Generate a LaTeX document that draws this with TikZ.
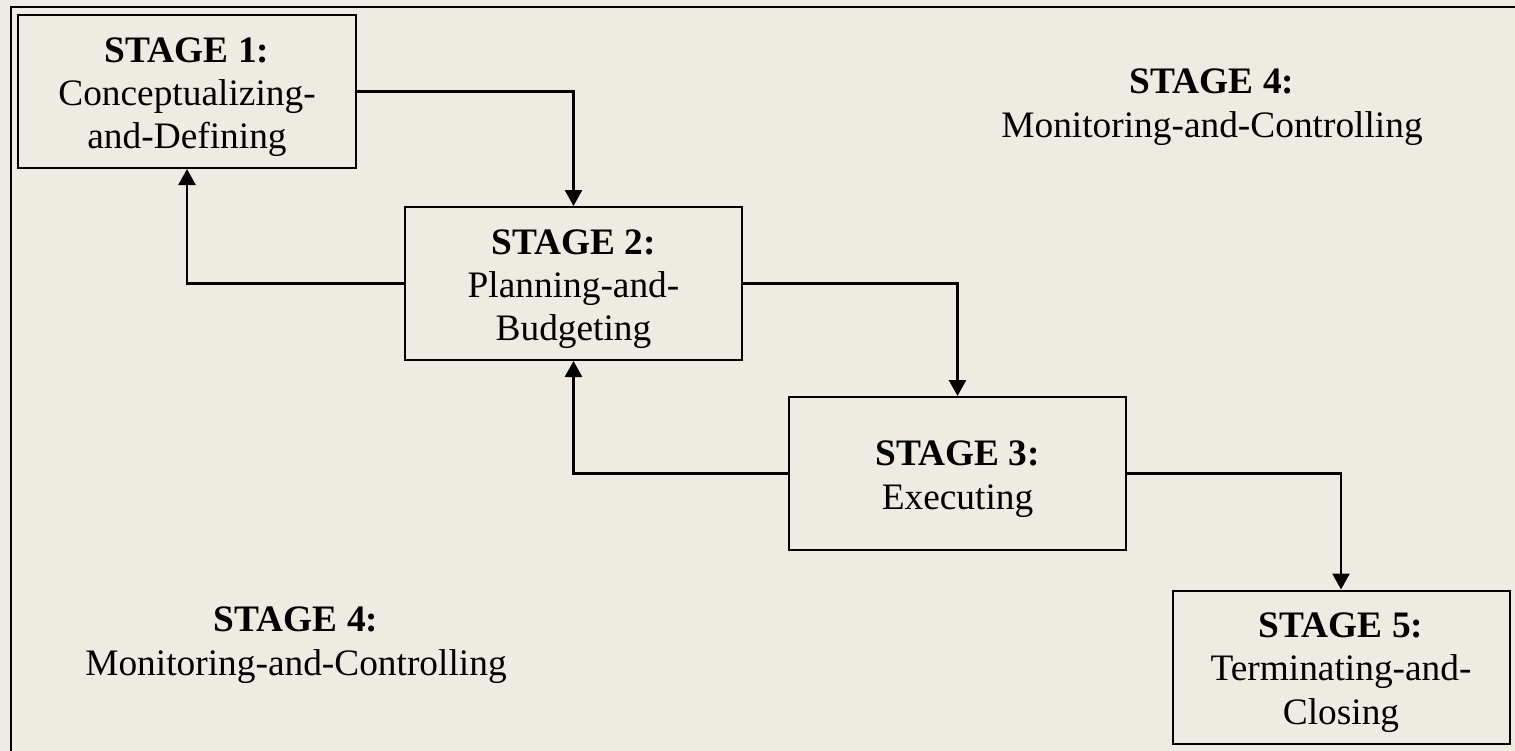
\documentclass[tikz,border=0pt]{standalone}
\usepackage{fontspec}
\setmainfont{Liberation Serif}
\usetikzlibrary{arrows.meta}
\definecolor{bgcol}{RGB}{238,235,227}
\newcommand{\toplift}{\rule{0pt}{36bp}}
\tikzset{
  stagebox/.style={draw=black, line width=2bp, fill=bgcol, minimum width=337bp, minimum height=153bp, inner sep=0pt, align=center, font=\fontsize{37.5}{43.5}\selectfont},
  freelabel/.style={inner sep=0pt, align=center, font=\fontsize{37.5}{44}\selectfont},
  arr/.style={draw=black, line width=2.6bp, -{Triangle[width=17bp,length=16bp]}}
}
\begin{document}
\begin{tikzpicture}[x=1bp,y=-1bp]
\fill[bgcol] (0,0) rectangle (1515,751);
\useasboundingbox (0,0) rectangle (1515,751);
\draw[line width=2.6bp] (11,751) -- (11,7) -- (1515,7);

\node[stagebox] (s1) at (187,91.5) {\toplift\textbf{STAGE 1:}\\Conceptualizing-\\and-Defining};
\node[stagebox] (s2) at (573.5,283.5) {\toplift\textbf{STAGE 2:}\\Planning-and-\\Budgeting};
\node[stagebox] (s3) at (957.5,473.5) {\toplift\textbf{STAGE 3:}\\Executing};
\node[stagebox] (s5) at (1341,667) {\toplift\textbf{STAGE 5:}\\Terminating-and-\\Closing};

\node[freelabel] (s4a) at (1212,107) {\textbf{STAGE 4:}\\Monitoring-and-Controlling};
\node[freelabel] (s4b) at (296,645) {\textbf{STAGE 4:}\\Monitoring-and-Controlling};

\draw[arr] (s1.east) -| (s2.north);
\draw[arr] (s2.west) -| (s1.south);
\draw[arr] (s2.east) -| (s3.north);
\draw[arr] (s3.west) -| (s2.south);
\draw[arr] (s3.east) -| (s5.north);
\end{tikzpicture}
\end{document}
